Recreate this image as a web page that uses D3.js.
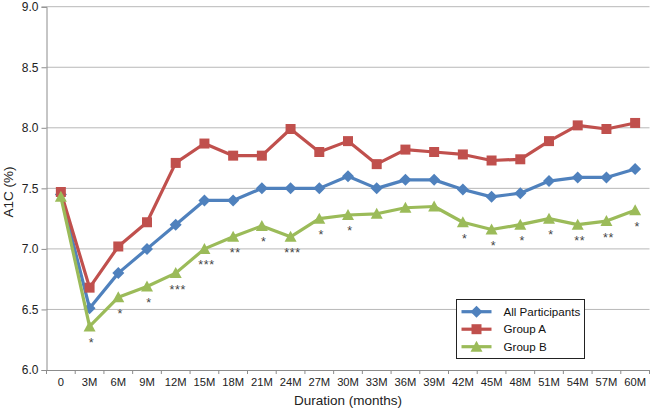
<!DOCTYPE html>
<html>
<head>
<meta charset="utf-8">
<script src="https://cdn.jsdelivr.net/npm/d3@7"></script>
<style>
html,body{margin:0;padding:0;background:#fff;}
svg{display:block;font-family:"Liberation Sans",Arial,sans-serif;}
</style>
</head>
<body>
<svg id="chart" width="651" height="411"></svg>
<script>
const categories = ["0","3M","6M","9M","12M","15M","18M","21M","24M","27M","30M","33M","36M","39M","42M","45M","48M","51M","54M","57M","60M"];
const allParticipants = [7.45,6.51,6.80,7.00,7.20,7.40,7.40,7.50,7.50,7.50,7.60,7.50,7.57,7.57,7.49,7.43,7.46,7.56,7.59,7.59,7.66];
const groupA = [7.47,6.68,7.02,7.22,7.71,7.87,7.77,7.77,7.99,7.80,7.89,7.70,7.82,7.80,7.78,7.73,7.74,7.89,8.02,7.99,8.04];
const groupB = [7.43,6.36,6.60,6.69,6.80,7.00,7.10,7.19,7.10,7.25,7.28,7.29,7.34,7.35,7.22,7.16,7.20,7.25,7.20,7.23,7.32];
const significance = ["","*","*","*","***","***","**","*","***","*","*","","","","*","*","*","*","**","**","*"];
const yTicks = [6.0,6.5,7.0,7.5,8.0,8.5,9.0];
const seriesNames = ["All Participants","Group A","Group B"];

const svg = d3.select("#chart");
const margin = {left:46.5, right:1.5, top:6.7, bottom:41};
const W = 651, H = 411;
const x = d3.scaleBand().domain(categories).range([margin.left, W - margin.right]);
const y = d3.scaleLinear().domain([6, 9]).range([H - margin.bottom, margin.top]);

const gridColor = "#b8b8b8";
const axisColor = "#8c8c8c";

// gridlines
svg.append("g").selectAll("line").data(yTicks.filter(d => d > 6)).join("line")
  .attr("x1", margin.left).attr("x2", W - margin.right)
  .attr("y1", d => y(d)).attr("y2", d => y(d))
  .attr("stroke", gridColor).attr("stroke-width", 1);

// y axis
const yAxis = d3.axisLeft(y).tickValues(yTicks).tickFormat(d3.format(".1f")).tickSize(5).tickPadding(3);
const gy = svg.append("g").attr("transform", `translate(${margin.left},0)`).call(yAxis);
gy.select(".domain").attr("stroke", axisColor);
gy.selectAll(".tick line").attr("stroke", axisColor);
gy.selectAll(".tick text").attr("font-size", 12).attr("fill", "#222").attr("font-family", "Liberation Sans, Arial, sans-serif");

// x axis
const xAxis = d3.axisBottom(x).tickSize(0).tickPadding(8);
const gx = svg.append("g").attr("transform", `translate(0,${y(6)})`).call(xAxis);
gx.select(".domain").attr("stroke", axisColor);
gx.selectAll(".tick text").attr("font-size", 11.2).attr("fill", "#222").attr("font-family", "Liberation Sans, Arial, sans-serif");
// category boundary ticks
const bounds = categories.map(c => x(c)).concat([x(categories[categories.length-1]) + x.bandwidth()]);
svg.append("g").selectAll("line").data(bounds).join("line")
  .attr("x1", d => d).attr("x2", d => d)
  .attr("y1", y(6)).attr("y2", y(6) + 4)
  .attr("stroke", axisColor);

// titles
svg.append("text").attr("x", (margin.left + W - margin.right) / 2).attr("y", 405)
  .attr("text-anchor", "middle").attr("font-size", 13.5).attr("fill", "#222")
  .text("Duration (months)");
svg.append("text").attr("transform", `translate(13,${192}) rotate(-90)`)
  .attr("text-anchor", "middle").attr("font-size", 13.5).attr("fill", "#222")
  .text("A1C (%)");

const colors = ["#4F81BD", "#C0504D", "#9BBB59"];
const allSeries = [allParticipants, groupA, groupB];
const cx = c => x(c) + x.bandwidth() / 2;
const line = d3.line().x((d, i) => cx(categories[i])).y(d => y(d));

function markerPath(k) {
  if (k === 0) return "M0,-6L6,0L0,6L-6,0Z";
  if (k === 1) return "M-5,-5L5,-5L5,5L-5,5Z";
  return "M0,-6L6,5L-6,5Z";
}

allSeries.forEach((vals, k) => {
  const g = svg.append("g");
  g.append("path").datum(vals).attr("d", line)
    .attr("fill", "none").attr("stroke", colors[k]).attr("stroke-width", 3.2).attr("stroke-linejoin", "round");
  g.selectAll("path.m").data(vals).join("path").attr("class", "m")
    .attr("d", markerPath(k))
    .attr("transform", (d, i) => `translate(${cx(categories[i])},${y(d)})`)
    .attr("fill", colors[k]);
});

// significance labels
svg.append("g").selectAll("text").data(significance).join("text")
  .attr("x", (d, i) => cx(categories[i]) + 2)
  .attr("y", (d, i) => y(groupB[i]) + 20.5)
  .attr("text-anchor", "middle").attr("font-size", 12.5).attr("fill", "#444")
  .attr("letter-spacing", 0.6)
  .text(d => d);

// legend
const lg = svg.append("g").attr("transform", "translate(456.5,299.5)");
lg.append("rect").attr("width", 128).attr("height", 59).attr("fill", "#fff").attr("stroke", "#222").attr("stroke-width", 1);
seriesNames.forEach((name, k) => {
  const ry = 12.2 + k * 17.5;
  lg.append("line").attr("x1", 5).attr("x2", 35).attr("y1", ry).attr("y2", ry)
    .attr("stroke", colors[k]).attr("stroke-width", 3.2);
  lg.append("path").attr("d", markerPath(k)).attr("transform", `translate(20,${ry})`).attr("fill", colors[k]);
  lg.append("text").attr("x", 47).attr("y", ry + 4.2).attr("font-size", 11.6).attr("fill", "#111").text(name);
});
</script>
</body>
</html>
